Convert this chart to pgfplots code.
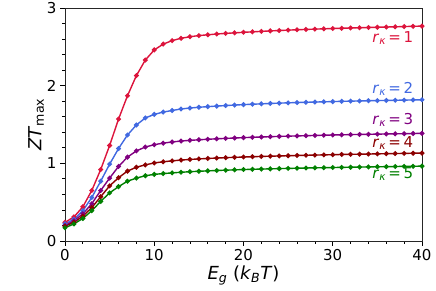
\documentclass[border=0pt]{standalone}
\usepackage{pgfplots}
\pgfplotsset{compat=1.18}
\usepackage{fontspec}
\setmainfont{DejaVu Sans}
\definecolor{c1}{RGB}{220,20,60}
\definecolor{c2}{RGB}{65,105,225}
\definecolor{c3}{RGB}{128,0,128}
\definecolor{c4}{RGB}{139,0,0}
\definecolor{c5}{RGB}{0,128,0}
\newcommand{\rk}[1]{\textit{r}\textsubscript{\textit{κ}}\,=\,#1}
\begin{document}
\begin{tikzpicture}
\begin{axis}[
  scale only axis, width=357pt, height=233pt,
  xmin=0, xmax=40, ymin=0, ymax=3,
  xtick={0,10,20,30,40}, ytick={0,1,2,3},
  minor x tick num=4, minor y tick num=4,
  xtick pos=left, ytick pos=left, tick align=outside,
  major tick length=5pt, minor tick length=3pt,
  every tick/.style={black, line width=0.8pt},
  axis line style={line width=0.8pt, black!85},
  /pgf/number format/assume math mode=true,
  ticklabel style={font=\fontsize{15}{15}\selectfont},
  xlabel={\textit{E}\textsubscript{\textit{g}} (\textit{k}\textsubscript{\textit{B}}\textit{T})},
  ylabel={\textit{ZT}\textsubscript{max}},
  label style={font=\fontsize{18}{18}\selectfont},
  xlabel style={yshift=2pt},
  ylabel style={yshift=-4pt},
  every axis plot/.style={line width=1.4pt, mark=*, mark size=1.7pt, mark options={solid}},
  clip=false,
]
\addplot[c1] coordinates {(0,0.24)(1,0.31)(2,0.44)(3,0.65)(4,0.92)(5,1.23)(6,1.57)(7,1.87)(8,2.13)(9,2.33)(10,2.46)(11,2.535)(12,2.58)(13,2.61)(14,2.63)(15,2.645)(16,2.655)(17,2.665)(18,2.673)(19,2.68)(20,2.687)(21,2.693)(22,2.699)(23,2.705)(24,2.71)(25,2.715)(26,2.72)(27,2.724)(28,2.728)(29,2.732)(30,2.736)(31,2.739)(32,2.743)(33,2.746)(34,2.749)(35,2.752)(36,2.755)(37,2.758)(38,2.761)(39,2.764)(40,2.767)};
\addplot[c2] coordinates {(0,0.22)(1,0.28)(2,0.39)(3,0.56)(4,0.77)(5,0.99)(6,1.19)(7,1.365)(8,1.494)(9,1.584)(10,1.63)(11,1.66)(12,1.68)(13,1.70)(14,1.712)(15,1.722)(16,1.73)(17,1.737)(18,1.744)(19,1.75)(20,1.756)(21,1.761)(22,1.766)(23,1.771)(24,1.775)(25,1.779)(26,1.783)(27,1.786)(28,1.789)(29,1.792)(30,1.795)(31,1.798)(32,1.801)(33,1.803)(34,1.806)(35,1.808)(36,1.81)(37,1.812)(38,1.814)(39,1.816)(40,1.818)};
\addplot[c3] coordinates {(0,0.20)(1,0.26)(2,0.35)(3,0.48)(4,0.65)(5,0.81)(6,0.96)(7,1.08)(8,1.16)(9,1.21)(10,1.24)(11,1.26)(12,1.275)(13,1.287)(14,1.296)(15,1.303)(16,1.31)(17,1.316)(18,1.321)(19,1.326)(20,1.331)(21,1.335)(22,1.339)(23,1.343)(24,1.347)(25,1.35)(26,1.353)(27,1.356)(28,1.359)(29,1.362)(30,1.365)(31,1.367)(32,1.37)(33,1.372)(34,1.374)(35,1.376)(36,1.378)(37,1.38)(38,1.382)(39,1.384)(40,1.386)};
\addplot[c4] coordinates {(0,0.19)(1,0.24)(2,0.32)(3,0.43)(4,0.57)(5,0.71)(6,0.815)(7,0.90)(8,0.95)(9,0.98)(10,1.005)(11,1.02)(12,1.032)(13,1.042)(14,1.05)(15,1.057)(16,1.063)(17,1.068)(18,1.073)(19,1.077)(20,1.081)(21,1.085)(22,1.089)(23,1.092)(24,1.095)(25,1.098)(26,1.101)(27,1.104)(28,1.106)(29,1.109)(30,1.111)(31,1.114)(32,1.116)(33,1.118)(34,1.12)(35,1.122)(36,1.124)(37,1.126)(38,1.128)(39,1.13)(40,1.132)};
\addplot[c5] coordinates {(0,0.17)(1,0.22)(2,0.29)(3,0.39)(4,0.51)(5,0.62)(6,0.70)(7,0.77)(8,0.81)(9,0.84)(10,0.858)(11,0.868)(12,0.877)(13,0.885)(14,0.892)(15,0.898)(16,0.903)(17,0.908)(18,0.912)(19,0.916)(20,0.92)(21,0.923)(22,0.926)(23,0.929)(24,0.932)(25,0.935)(26,0.937)(27,0.94)(28,0.942)(29,0.944)(30,0.946)(31,0.948)(32,0.95)(33,0.952)(34,0.954)(35,0.956)(36,0.957)(37,0.959)(38,0.961)(39,0.962)(40,0.964)};
\node[anchor=east, text=c1, font=\fontsize{15}{15}\selectfont] at (axis cs:39.4,2.61) {\rk{1}};
\node[anchor=east, text=c2, font=\fontsize{15}{15}\selectfont] at (axis cs:39.4,1.96) {\rk{2}};
\node[anchor=east, text=c3, font=\fontsize{15}{15}\selectfont] at (axis cs:39.4,1.56) {\rk{3}};
\node[anchor=east, text=c4, font=\fontsize{15}{15}\selectfont] at (axis cs:39.4,1.26) {\rk{4}};
\node[anchor=east, text=c5, font=\fontsize{15}{15}\selectfont] at (axis cs:39.4,0.86) {\rk{5}};
\end{axis}
\pgfresetboundingbox
\path (current axis.south west)+(-65pt,-50pt) coordinate (bl);
\path (current axis.north east)+(14pt,8pt) coordinate (tr);
\useasboundingbox (bl) rectangle (tr);
\end{tikzpicture}
\end{document}
